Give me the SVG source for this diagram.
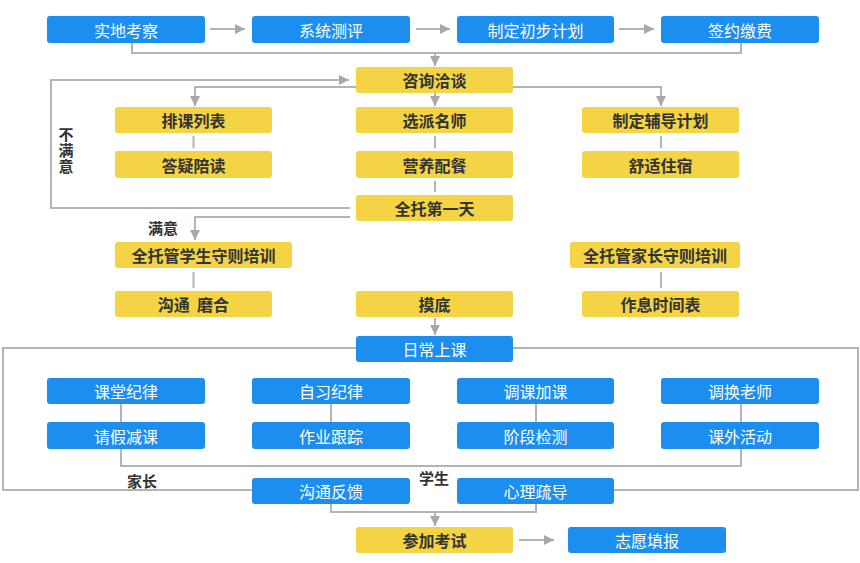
<svg xmlns="http://www.w3.org/2000/svg" width="860" height="563" viewBox="0 0 860 563">
<defs>
<style>
.b{fill:#1b8ef0}
.y{fill:#f4d444}
.tb{font-family:"Noto Sans CJK SC","Noto Sans",sans-serif;font-size:16px;fill:#ffffff;text-anchor:middle;dominant-baseline:central}
.ty{font-family:"Noto Sans CJK SC","Noto Sans",sans-serif;font-size:16px;font-weight:bold;fill:#333333;text-anchor:middle;dominant-baseline:central}
.lb{font-family:"Noto Sans CJK SC","Noto Sans",sans-serif;font-size:15px;font-weight:bold;fill:#333333;text-anchor:middle;dominant-baseline:central}
.c{fill:none;stroke:#b4b4b4;stroke-width:2}
.a{fill:none;stroke:#b4b4b4;stroke-width:2;marker-end:url(#ah)}
</style>
<marker id="ah" viewBox="0 0 10 10" refX="10" refY="5" markerWidth="5" markerHeight="5" orient="auto" markerUnits="strokeWidth">
<path d="M0,0 L10,5 L0,10 z" fill="#a8a8a8"/>
</marker>
</defs>
<rect width="860" height="563" fill="#ffffff"/>
<g id="connectors">
<line class="a" x1="210" y1="29" x2="245" y2="29"/>
<line class="a" x1="416" y1="29" x2="450" y2="29"/>
<line class="a" x1="619" y1="29" x2="654" y2="29"/>
<polyline class="c" points="132,43 132,53 741,53 741,43"/>
<line class="a" x1="435" y1="53" x2="435" y2="66"/>
<polyline class="a" points="356,87 195,87 195,106"/>
<polyline class="a" points="513,87 661,87 661,106"/>
<line class="a" x1="435" y1="93" x2="435" y2="106"/>
<line class="c" x1="193.5" y1="136" x2="193.5" y2="148"/>
<line class="c" x1="435" y1="136" x2="435" y2="148"/>
<line class="c" x1="661" y1="136" x2="661" y2="148"/>
<line class="c" x1="435" y1="181" x2="435" y2="192"/>
<polyline class="a" points="350,208 51,208 51,80 349,80"/>
<polyline class="a" points="350,217 195,217 195,240"/>
<line class="c" x1="193.5" y1="272" x2="193.5" y2="288"/>
<line class="c" x1="661" y1="272" x2="661" y2="288"/>
<line class="a" x1="435" y1="318" x2="435" y2="335"/>
<polyline class="c" points="356,348 3,348 3,490 252,490"/>
<polyline class="c" points="513,348 858,348 858,490 614,490"/>
<polyline class="c" points="121,404 121,466 741,466 741,404"/>
<line class="c" x1="331" y1="404" x2="331" y2="422"/>
<line class="c" x1="536" y1="404" x2="536" y2="422"/>
<polyline class="c" points="331,504 331,512 536,512 536,504"/>
<line class="a" x1="435" y1="512" x2="435" y2="526"/>
<line class="a" x1="519" y1="540" x2="554" y2="540"/>
</g>
<g id="labels">
<text class="lb" x="66" y="151" style="writing-mode:vertical-rl;dominant-baseline:auto" letter-spacing="1">不满意</text>
<text class="lb" x="163" y="227">满意</text>
<text class="lb" x="142" y="480">家长</text>
<text class="lb" x="434" y="477">学生</text>
</g>
<g id="n1"><rect class="b" x="47" y="16" width="158" height="27" rx="3"/><text class="tb" x="126" y="29.5">实地考察</text></g>
<g id="n2"><rect class="b" x="252" y="16" width="158" height="27" rx="3"/><text class="tb" x="331" y="29.5">系统测评</text></g>
<g id="n3"><rect class="b" x="457" y="16" width="157" height="27" rx="3"/><text class="tb" x="535.5" y="29.5">制定初步计划</text></g>
<g id="n4"><rect class="b" x="661" y="16" width="158" height="27" rx="3"/><text class="tb" x="740" y="29.5">签约缴费</text></g>
<g id="n5"><rect class="y" x="356" y="67" width="157" height="26" rx="3"/><text class="ty" x="434.5" y="80">咨询洽谈</text></g>
<g id="n6"><rect class="y" x="115" y="107" width="157" height="26" rx="3"/><text class="ty" x="193.5" y="120">排课列表</text></g>
<g id="n7"><rect class="y" x="356" y="107" width="157" height="26" rx="3"/><text class="ty" x="434.5" y="120">选派名师</text></g>
<g id="n8"><rect class="y" x="582" y="107" width="157" height="26" rx="3"/><text class="ty" x="660.5" y="120">制定辅导计划</text></g>
<g id="n9"><rect class="y" x="115" y="151" width="157" height="27" rx="3"/><text class="ty" x="193.5" y="164.5">答疑陪读</text></g>
<g id="n10"><rect class="y" x="356" y="151" width="157" height="27" rx="3"/><text class="ty" x="434.5" y="164.5">营养配餐</text></g>
<g id="n11"><rect class="y" x="582" y="151" width="157" height="27" rx="3"/><text class="ty" x="660.5" y="164.5">舒适住宿</text></g>
<g id="n12"><rect class="y" x="356" y="195" width="157" height="26" rx="3"/><text class="ty" x="434.5" y="208">全托第一天</text></g>
<g id="n13"><rect class="y" x="115" y="242" width="177" height="26" rx="3"/><text class="ty" x="203.5" y="255">全托管学生守则培训</text></g>
<g id="n14"><rect class="y" x="570" y="242" width="170" height="26" rx="3"/><text class="ty" x="655" y="255">全托管家长守则培训</text></g>
<g id="n15"><rect class="y" x="115" y="291" width="157" height="26" rx="3"/><text class="ty" x="193.5" y="304">沟通&#160;&#160;磨合</text></g>
<g id="n16"><rect class="y" x="356" y="291" width="157" height="26" rx="3"/><text class="ty" x="434.5" y="304">摸底</text></g>
<g id="n17"><rect class="y" x="582" y="291" width="157" height="26" rx="3"/><text class="ty" x="660.5" y="304">作息时间表</text></g>
<g id="n18"><rect class="b" x="356" y="336" width="157" height="26" rx="3"/><text class="tb" x="434.5" y="349">日常上课</text></g>
<g id="n19"><rect class="b" x="47" y="378" width="158" height="26" rx="3"/><text class="tb" x="126" y="391">课堂纪律</text></g>
<g id="n20"><rect class="b" x="252" y="378" width="158" height="26" rx="3"/><text class="tb" x="331" y="391">自习纪律</text></g>
<g id="n21"><rect class="b" x="457" y="378" width="157" height="26" rx="3"/><text class="tb" x="535.5" y="391">调课加课</text></g>
<g id="n22"><rect class="b" x="661" y="378" width="158" height="26" rx="3"/><text class="tb" x="740" y="391">调换老师</text></g>
<g id="n23"><rect class="b" x="47" y="422" width="158" height="27" rx="3"/><text class="tb" x="126" y="435.5">请假减课</text></g>
<g id="n24"><rect class="b" x="252" y="422" width="158" height="27" rx="3"/><text class="tb" x="331" y="435.5">作业跟踪</text></g>
<g id="n25"><rect class="b" x="457" y="422" width="157" height="27" rx="3"/><text class="tb" x="535.5" y="435.5">阶段检测</text></g>
<g id="n26"><rect class="b" x="661" y="422" width="158" height="27" rx="3"/><text class="tb" x="740" y="435.5">课外活动</text></g>
<g id="n27"><rect class="b" x="252" y="478" width="158" height="26" rx="3"/><text class="tb" x="331" y="491">沟通反馈</text></g>
<g id="n28"><rect class="b" x="457" y="478" width="157" height="26" rx="3"/><text class="tb" x="535.5" y="491">心理疏导</text></g>
<g id="n29"><rect class="y" x="356" y="527" width="157" height="26" rx="3"/><text class="ty" x="434.5" y="540">参加考试</text></g>
<g id="n30"><rect class="b" x="568" y="527" width="158" height="26" rx="3"/><text class="tb" x="647" y="540">志愿填报</text></g>
</svg>
